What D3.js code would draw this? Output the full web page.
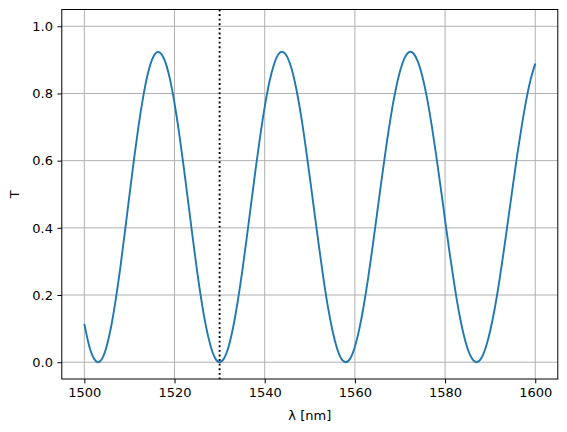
<!DOCTYPE html>
<html>
<head>
<meta charset="utf-8">
<script src="https://cdn.jsdelivr.net/npm/d3@7"></script>
<style>
  html, body { margin: 0; padding: 0; background: #fff; }
  svg { display: block; }
  text { font-family: "DejaVu Sans", sans-serif; fill: #000; }
</style>
</head>
<body>
<svg id="chart" width="567" height="432"></svg>
<script>
// Wavelength samples (nm)
const wavelengths = d3.range(1500, 1601, 1);
// Transmission values (one per nm, 1500..1600)
const transmission = [
  0.114, 0.052, 0.014, 0.000, 0.012, 0.050, 0.110, 0.190, 0.284, 0.389,
  0.497, 0.603, 0.701, 0.786, 0.854, 0.900, 0.922, 0.919, 0.892, 0.842,
  0.771, 0.684, 0.585, 0.480, 0.374, 0.272, 0.181, 0.105, 0.048, 0.012,
  0.000, 0.012, 0.047, 0.104, 0.180, 0.269, 0.369, 0.473, 0.576, 0.673,
  0.760, 0.832, 0.884, 0.916, 0.924, 0.909, 0.872, 0.814, 0.739, 0.649,
  0.551, 0.449, 0.348, 0.252, 0.166, 0.096, 0.043, 0.010, 0.000, 0.012,
  0.046, 0.100, 0.171, 0.256, 0.351, 0.451, 0.551, 0.647, 0.734, 0.808,
  0.866, 0.905, 0.923, 0.919, 0.894, 0.849, 0.786, 0.708, 0.619, 0.523,
  0.423, 0.326, 0.236, 0.155, 0.089, 0.040, 0.010, 0.000, 0.011, 0.043,
  0.093, 0.159, 0.239, 0.329, 0.425, 0.522, 0.617, 0.703, 0.780, 0.843,
  0.889
];
const xTicks = [1500, 1520, 1540, 1560, 1580, 1600];
const yTicks = [0.0, 0.2, 0.4, 0.6, 0.8, 1.0];
const markerWavelength = [1530];
const xLabel = "λ [nm]";
const yLabel = "T";

const svg = d3.select("#chart");
const L = 61.8, R = 557.8, T = 9.5, B = 379;
const fontSize = 13;

const x = d3.scaleLinear().domain([1495, 1605]).range([L, R]);
const y = d3.scaleLinear().domain([-0.05, 1.05]).range([B, T]);

// Grid
const grid = svg.append("g");
grid.selectAll("line.gx").data(xTicks).join("line")
  .attr("x1", d => x(d)).attr("x2", d => x(d))
  .attr("y1", T).attr("y2", B)
  .attr("stroke", "#b0b0b0").attr("stroke-width", 1);
grid.selectAll("line.gy").data(yTicks).join("line")
  .attr("y1", d => y(d)).attr("y2", d => y(d))
  .attr("x1", L).attr("x2", R)
  .attr("stroke", "#b0b0b0").attr("stroke-width", 1);

// Clip
svg.append("clipPath").attr("id", "clip").append("rect")
  .attr("x", L).attr("y", T).attr("width", R - L).attr("height", B - T);

// Curve
const data = wavelengths.map((w, i) => [w, transmission[i]]);
svg.append("path")
  .datum(data)
  .attr("clip-path", "url(#clip)")
  .attr("fill", "none")
  .attr("stroke", "#1f77b4")
  .attr("stroke-width", 1.9)
  .attr("stroke-linejoin", "round")
  .attr("d", d3.line().x(d => x(d[0])).y(d => y(d[1])).curve(d3.curveNatural));

// Dotted vertical line
svg.selectAll("line.vmark").data(markerWavelength).join("line")
  .attr("x1", d => x(d)).attr("x2", d => x(d))
  .attr("y1", T).attr("y2", B)
  .attr("stroke", "#000").attr("stroke-width", 1.9)
  .attr("stroke-dasharray", "1.9,2.7");

// Axes
const xAxis = d3.axisBottom(x).tickValues(xTicks).tickFormat(d3.format("d"))
  .tickSizeInner(4.4).tickSizeOuter(0).tickPadding(4.4);
const yAxis = d3.axisLeft(y).tickValues(yTicks).tickFormat(d3.format(".1f"))
  .tickSizeInner(4.4).tickSizeOuter(0).tickPadding(4.4);

const gx = svg.append("g").attr("transform", `translate(0,${B})`).call(xAxis);
const gy = svg.append("g").attr("transform", `translate(${L},0)`).call(yAxis);
[gx, gy].forEach(g => {
  g.select(".domain").remove();
  g.selectAll(".tick line").attr("stroke", "#000").attr("stroke-width", 1);
  g.selectAll(".tick text").attr("font-size", fontSize)
    .attr("font-family", "DejaVu Sans").attr("fill", "#000");
});

// Frame
svg.append("rect").attr("x", L).attr("y", T).attr("width", R - L).attr("height", B - T)
  .attr("fill", "none").attr("stroke", "#000").attr("stroke-width", 1);

// Labels
svg.append("text").attr("x", (L + R) / 2).attr("y", 419.5)
  .attr("text-anchor", "middle").attr("font-size", fontSize).text(xLabel);
svg.append("text").attr("transform", `translate(19,${(T + B) / 2}) rotate(-90)`)
  .attr("text-anchor", "middle").attr("font-size", fontSize).text(yLabel);
</script>
</body>
</html>
